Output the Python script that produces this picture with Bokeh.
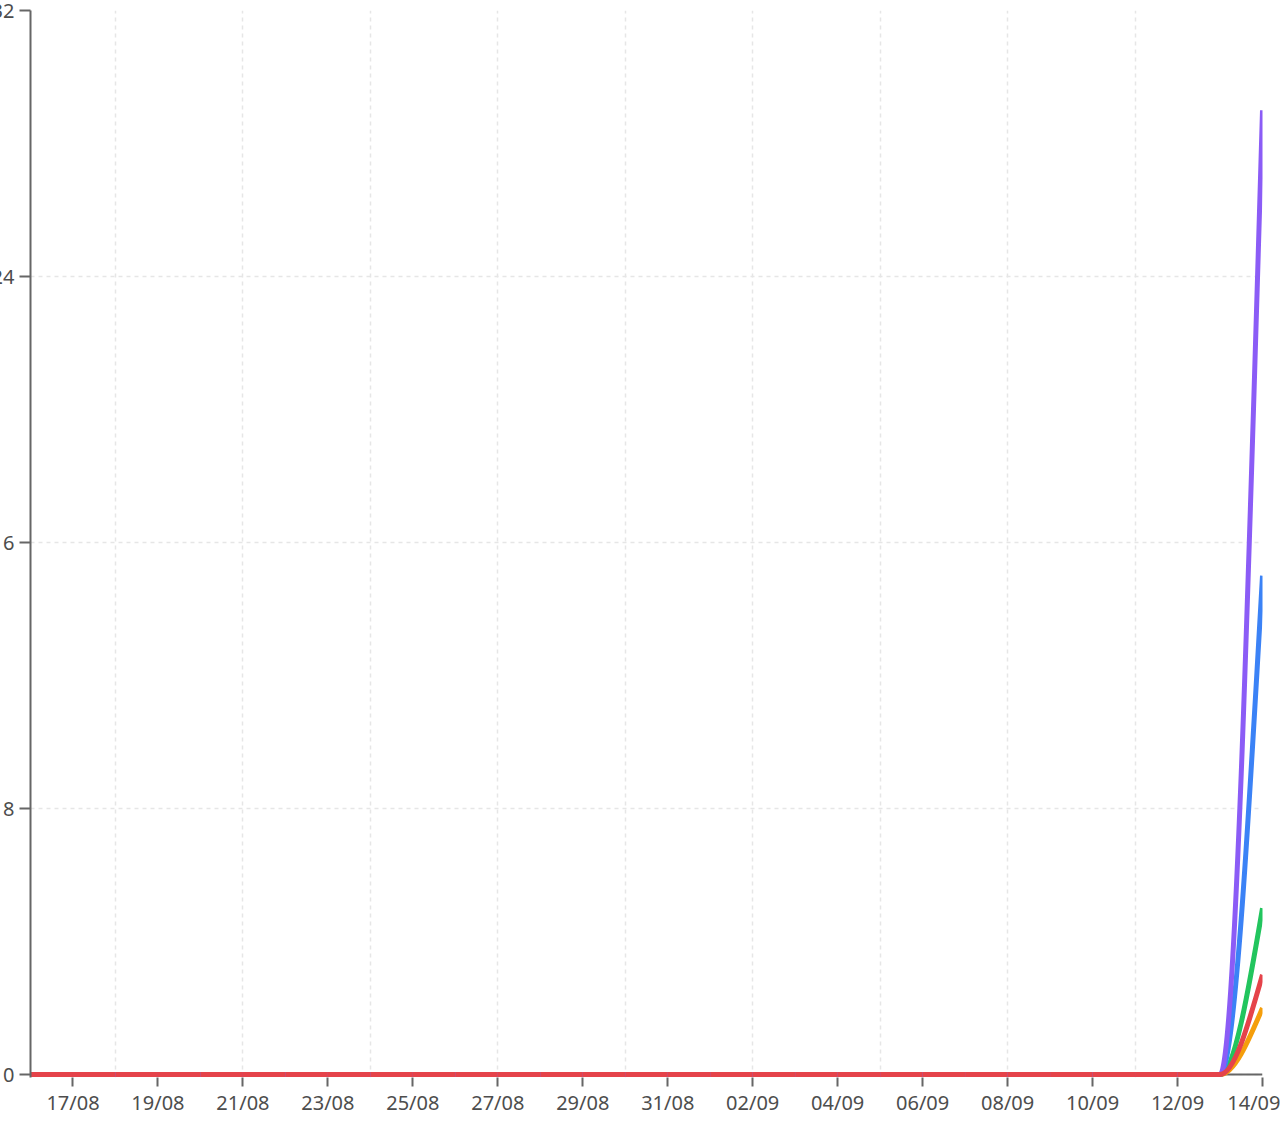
import numpy as np
import pandas as pd
from bokeh.plotting import figure
from bokeh.models import (Range1d, FixedTicker, SingleIntervalTicker,
                          DatetimeTickFormatter, Span, ColumnDataSource)
from bokeh.embed import file_html
from bokeh.resources import INLINE

# ---------------- data ----------------
dates = pd.date_range("2024-08-16", "2024-09-14", freq="D")
n_days = len(dates)
series_names = ["orange", "green", "blue", "purple", "red"]
series_colors = ["#f59e0b", "#22c55e", "#3b82f6", "#8b5cf6", "#e5434a"]
orange_vals = [0] * (n_days - 1) + [2]
green_vals = [0] * (n_days - 1) + [5]
blue_vals = [0] * (n_days - 1) + [15]
purple_vals = [0] * (n_days - 1) + [29]
red_vals = [0] * (n_days - 1) + [3]
series_values = [orange_vals, green_vals, blue_vals, purple_vals, red_vals]
y_ticks_step = 8
y_max = 32
x_tick_dates = pd.date_range("2024-08-17", "2024-09-14", freq="2D")
x_grid_dates = pd.date_range("2024-08-18", "2024-09-14", freq="3D")


def to_ms(idx):
    return idx.values.astype("datetime64[ms]").astype("int64").astype(float)


def monotone_segments(xs, ys):
    """Monotone-X cubic (d3 style) rendered as bezier segments."""
    xs = np.asarray(xs, float)
    ys = np.asarray(ys, float)
    n = len(xs)
    h = np.diff(xs)
    s = np.diff(ys) / h
    t = np.zeros(n)
    for i in range(1, n - 1):
        p = (s[i - 1] * h[i] + s[i] * h[i - 1]) / (h[i - 1] + h[i])
        t[i] = (np.sign(s[i - 1]) + np.sign(s[i])) * min(abs(s[i - 1]), abs(s[i]), 0.5 * abs(p))
    t[0] = (3 * s[0] - t[1]) / 2
    t[-1] = (3 * s[-1] - t[-2]) / 2
    return dict(
        x0=xs[:-1], y0=ys[:-1], x1=xs[1:], y1=ys[1:],
        cx0=xs[:-1] + h / 3, cy0=ys[:-1] + t[:-1] * h / 3,
        cx1=xs[1:] - h / 3, cy1=ys[1:] - t[1:] * h / 3,
    )


xs_ms = to_ms(dates)

# frame: 0 at page y=1075, 32 at page y=10;
# the frame extends 3px below zero so the zero-level lines are not clipped
px_per_unit = (1075 - 10) / y_max
y_start = -3 / px_per_unit

p = figure(
    width=1300, height=1118,
    x_axis_type="datetime",
    x_range=Range1d(xs_ms[0], xs_ms[-1]),
    y_range=Range1d(y_start, y_max),
    output_backend="svg", toolbar_location=None,
    min_border_left=50, min_border_top=10, min_border_right=18, min_border_bottom=40,
)
p.styles = {"margin-left": "-20px"}
p.outline_line_color = None
p.background_fill_color = "white"

# baseline at zero (acts as the x-axis line), drawn underneath the lines
p.add_layout(Span(location=0, dimension="width", line_color="#666666",
                  line_width=2, level="underlay"))

for name, color, vals in zip(series_names, series_colors, series_values):
    src = ColumnDataSource(monotone_segments(xs_ms, vals))
    p.bezier(x0="x0", y0="y0", x1="x1", y1="y1", cx0="cx0", cy0="cy0",
             cx1="cx1", cy1="cy1", source=src, line_color=color,
             line_width=5, line_alpha=1.0)

# axes
font = "Noto Sans"
for ax in (p.xaxis[0], p.yaxis[0]):
    ax.axis_line_color = "#666666"
    ax.axis_line_width = 2
    ax.major_tick_line_color = "#666666"
    ax.major_tick_line_width = 2
    ax.major_tick_in = 0
    ax.major_tick_out = 11
    ax.minor_tick_in = 0
    ax.minor_tick_out = 0
    ax.major_label_text_font = font
    ax.major_label_text_font_size = "20px"
    ax.major_label_text_color = "#4d4d4d"

p.xaxis[0].axis_line_alpha = 0  # baseline span plays this role
p.xaxis[0].major_tick_out = 9
p.xaxis[0].ticker = FixedTicker(ticks=list(to_ms(x_tick_dates)))
p.xaxis[0].formatter = DatetimeTickFormatter(days="%d/%m", months="%d/%m",
                                             hours="%d/%m", years="%d/%m")
p.xaxis[0].major_label_standoff = 2
p.yaxis[0].ticker = SingleIntervalTicker(interval=y_ticks_step)
p.yaxis[0].major_label_standoff = 5

# grids
p.xgrid[0].ticker = FixedTicker(ticks=list(to_ms(x_grid_dates)))
p.xgrid[0].grid_line_color = "#e6e6e6"
p.xgrid[0].grid_line_dash = "4 4"
p.xgrid[0].grid_line_width = 1.5
p.ygrid[0].grid_line_color = "#e6e6e6"
p.ygrid[0].grid_line_dash = "4 4"
p.ygrid[0].grid_line_width = 1.5

open("out.html", "w").write(file_html(p, INLINE))
